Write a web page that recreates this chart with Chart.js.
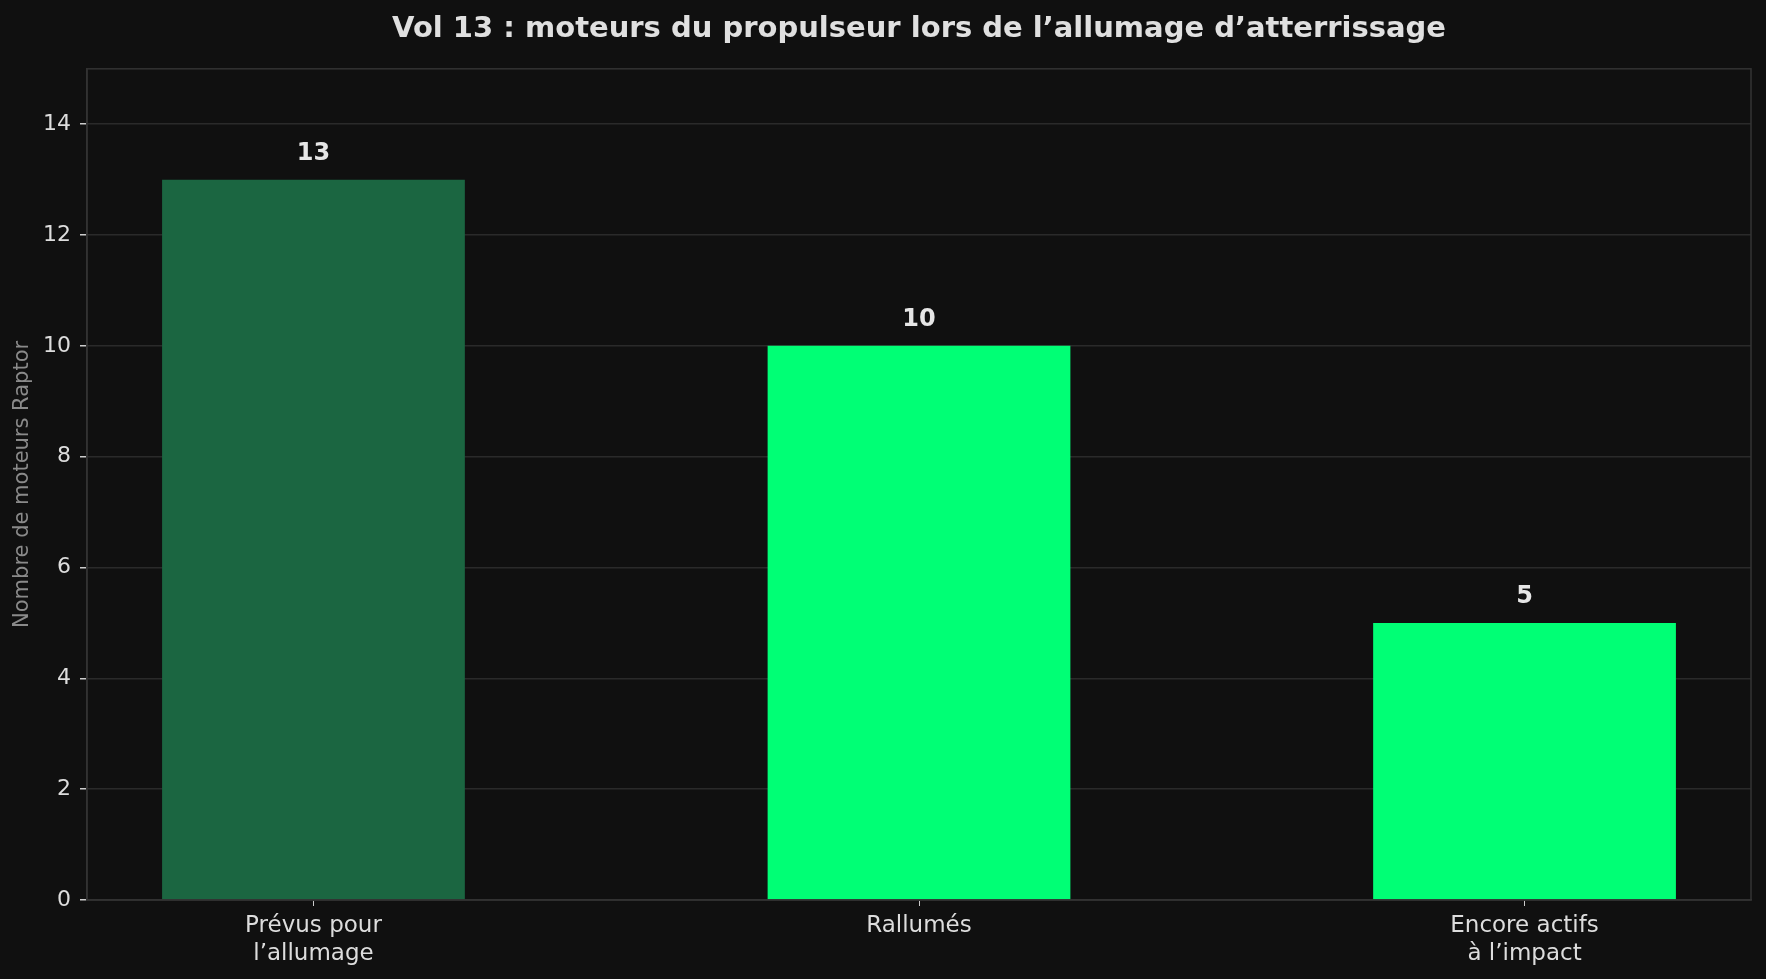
<!DOCTYPE html>
<html>
<head>
<meta charset="utf-8">
<script src="https://cdn.jsdelivr.net/npm/chart.js@4"></script>
<style>
  body { margin: 0; background: #101010; }
</style>
</head>
<body>
<canvas id="graficoMoteurs" width="1766" height="979"></canvas>
<script>
// Données du graphique
const categories = [['Prévus pour', 'l’allumage'], ['Rallumés'], ['Encore actifs', 'à l’impact']];
const moteurs = [13, 10, 5];
const couleurs = ['#1b6641', '#00ff75', '#00ff75'];
const ticksY = [0, 2, 4, 6, 8, 10, 12, 14];

Chart.defaults.font.family = "'DejaVu Sans', sans-serif";

// fond + cadre + étiquettes de valeur
const decor = {
    id: 'decor',
    beforeDraw(chart) {
        const ctx = chart.ctx;
        ctx.save();
        ctx.fillStyle = '#101010';
        ctx.fillRect(0, 0, chart.width, chart.height);
        ctx.restore();
    },
    afterDatasetsDraw(chart) {
        const ctx = chart.ctx;
        const a = chart.chartArea;
        ctx.save();
        ctx.strokeStyle = '#333333';
        ctx.lineWidth = 1.5;
        ctx.strokeRect(a.left, a.top, a.right - a.left, a.bottom - a.top);

        ctx.fillStyle = '#e6e6e6';
        ctx.font = "bold 24px 'DejaVu Sans'";
        ctx.textAlign = 'center';
        ctx.textBaseline = 'middle';
        chart.getDatasetMeta(0).data.forEach((bar, i) => {
            ctx.fillText(String(moteurs[i]), bar.x, bar.y - 26);
        });
        ctx.restore();
    }
};

const ctxMoteurs = document.getElementById('graficoMoteurs').getContext('2d');
const graficoMoteurs = new Chart(ctxMoteurs, {
    type: 'bar',
    data: {
        datasets: [{
            data: moteurs.map((v, i) => ({ x: i, y: v })),
            backgroundColor: couleurs,
            categoryPercentage: 1,
            barPercentage: 0.5
        }]
    },
    options: {
        responsive: false,
        animation: false,
        layout: { padding: { left: 0, right: 15, top: 0, bottom: 0 } },
        plugins: {
            legend: { display: false },
            tooltip: { enabled: false },
            title: {
                display: true,
                fullSize: false,
                text: 'Vol 13 : moteurs du propulseur lors de l’allumage d’atterrissage',
                color: '#e0e0e0',
                font: { size: 29, weight: 'bold' },
                padding: { top: 12, bottom: 22 }
            }
        },
        scales: {
            x: {
                type: 'linear',
                min: -0.374,
                max: 2.374,
                offset: false,
                afterBuildTicks: scale => {
                    scale.ticks = categories.map((c, i) => ({ value: i }));
                },
                afterFit: scale => { scale.height = 79; },
                ticks: {
                    autoSkip: false,
                    maxRotation: 0,
                    color: '#dddddd',
                    padding: 6,
                    font: { size: 23, lineHeight: 1.217 },
                    callback: v => categories[v]
                },
                grid: {
                    drawOnChartArea: false,
                    offset: false,
                    tickLength: 6,
                    tickColor: '#cccccc'
                },
                border: { color: '#333333', width: 1.5 }
            },
            y: {
                min: 0,
                max: 15,
                afterBuildTicks: scale => {
                    scale.ticks = ticksY.map(v => ({ value: v }));
                },
                afterFit: scale => { scale.width = 87; },
                ticks: {
                    color: '#dddddd',
                    padding: 9,
                    font: { size: 22 }
                },
                grid: {
                    color: '#2a2a2a',
                    lineWidth: 1.5,
                    tickLength: 7,
                    tickColor: '#cccccc'
                },
                border: { color: '#333333', width: 1.5 },
                title: {
                    display: true,
                    text: 'Nombre de moteurs Raptor',
                    color: '#8a8a8a',
                    font: { size: 21 },
                    padding: { top: 10 }
                }
            }
        }
    },
    plugins: [decor]
});
</script>
</body>
</html>
